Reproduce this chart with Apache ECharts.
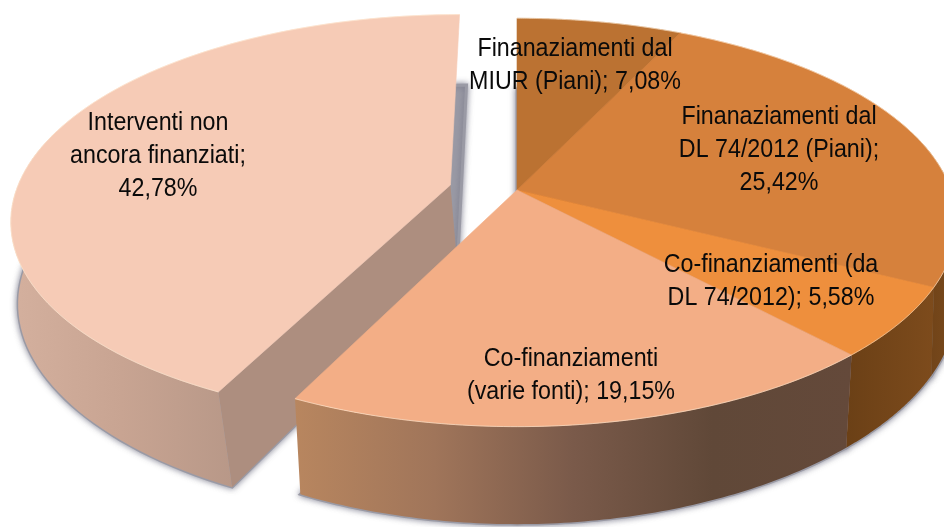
<!DOCTYPE html>
<html>
<head>
<meta charset="utf-8">
<title>Finanziamenti</title>
<script src="https://cdn.jsdelivr.net/npm/echarts@6/dist/echarts.min.js"></script>
<style>
  html, body { margin: 0; padding: 0; background: #ffffff; }
  #chart { width: 944px; height: 527px; }
</style>
</head>
<body>
<div id="chart"></div>
<script>
// slices, starting from the one that ends at twelve o'clock and going clockwise
const categories = [
  "Interventi non\nancora finanziati;",
  "Finanaziamenti dal\nMIUR (Piani);",
  "Finanaziamenti dal\nDL 74/2012 (Piani);",
  "Co-finanziamenti (da\nDL 74/2012);",
  "Co-finanziamenti\n(varie fonti);"
];
const values = [42.78, 7.08, 25.42, 5.58, 19.15];
const valueLabels = ["42,78%", "7,08%", "25,42%", "5,58%", "19,15%"];
const labelBreaks = ["\n", " ", "\n", " ", " "];

const topColors = ["#f6cbb6", "#bb7232", "#d6813c", "#ee8f3d", "#f3ae86"];
const wallColors = [
  ["#d4b09e", "#c8a492", "#b89888"],
  ["#8a5520", "#8a5520"],
  ["#6a3f16", "#7a4a1c"],
  ["#6b4016", "#7d4b1c"],
  ["#b8865f", "#a0755a", "#7a5a4a", "#604838", "#64493a"]
];
const cutColors = ["#ad8e7f", "#8a5520", "#6a3f16", "#6b4016", "#8a5f44"];

const labelCenters = [[158, 156], [575, 66], [779, 150], [771, 282], [571, 376]];

// homography from the unit circle to the screen, this is what gives the tilt
const centerX = 517, centerY = 190;
const radiusX = 434, radiusY = 199, persp = 0.159;
const depth = 82, baseShrink = 0.03;
const explode = [[-0.154, -0.025], [0, 0], [0, 0], [0, 0], [0, 0]];
const baseShift = [7, 0, 0, 0, 0];

const total = values.reduce((a, b) => a + b, 0);
const startAngle = -values[0] / total * 2 * Math.PI;

function sliceAngles(i) {
  let a = startAngle;
  for (let k = 0; k < i; k++) a += values[k] / total * 2 * Math.PI;
  return [a, a + values[i] / total * 2 * Math.PI];
}

function project(u, v, i, bottom) {
  const uu = u + explode[i][0], vv = v + explode[i][1];
  const w = 1 - persp * vv;
  let x = radiusX * uu / w, y = radiusY * vv / w;
  if (bottom) {
    // the base pulls in towards the viewer side only
    const front = Math.max(vv, 0);
    x = x * (1 - baseShrink * front * front) + baseShift[i];
    y += depth / w;
  }
  return [centerX + x, centerY + y];
}

function arc(i, bottom) {
  const [a0, a1] = sliceAngles(i);
  const pts = [];
  const n = 90;
  for (let k = 0; k <= n; k++) {
    const a = a0 + (a1 - a0) * k / n;
    pts.push(project(Math.sin(a), -Math.cos(a), i, bottom));
  }
  return pts;
}

function gradient(colors) {
  return new echarts.graphic.LinearGradient(0, 0, 1, 0,
    colors.map((c, k) => ({ offset: k / (colors.length - 1), color: c })));
}

function renderGlow(params) {
  const i = params.dataIndex;
  return {
    type: "polygon",
    shape: { points: [project(0, 0, i, true)].concat(arc(i, true)) },
    style: {
      fill: "#9a9aa5",
      stroke: "#9a9aa5",
      lineWidth: 3,
      shadowBlur: 6,
      shadowColor: "rgba(100,100,120,0.7)"
    }
  };
}

function renderWall(params) {
  const i = params.dataIndex;
  // the back of the rim is hidden by the top face, only keep the front part
  const keep = arc(i, false).map((p, k) => k).filter(k => arc(i, false)[k][1] > centerY - 60);
  const top = keep.map(k => arc(i, false)[k]);
  const base = keep.map(k => arc(i, true)[k]);
  const startTop = arc(i, false)[0], startBase = arc(i, true)[0];
  const children = [{
    type: "polygon",
    shape: { points: [project(0, 0, i, false), startTop, startBase, project(0, 0, i, true)] },
    style: { fill: cutColors[i] }
  }];
  if (top.length > 1) {
    children.push({
      type: "polygon",
      shape: { points: top.concat(base.slice().reverse()) },
      style: { fill: gradient(wallColors[i]) }
    });
  }
  return { type: "group", children: children };
}

function renderTop(params) {
  const i = params.dataIndex;
  const top = arc(i, false);
  return {
    type: "group",
    children: [
      {
        type: "polygon",
        shape: { points: [project(0, 0, i, false)].concat(top) },
        style: { fill: topColors[i], stroke: topColors[i], lineWidth: 0.6 }
      },
      {
        type: "polyline",
        shape: { points: top },
        style: { fill: null, stroke: "rgba(255,236,214,0.55)", lineWidth: 1 }
      }
    ]
  };
}

function renderLabel(params) {
  const i = params.dataIndex;
  return {
    type: "text",
    x: labelCenters[i][0],
    y: labelCenters[i][1],
    scaleX: 0.93,
    style: {
      text: categories[i] + labelBreaks[i] + valueLabels[i],
      fontFamily: "Liberation Sans",
      fontSize: 25,
      lineHeight: 33,
      fill: "#0a0a0a",
      align: "center",
      verticalAlign: "middle"
    }
  };
}

const chart = echarts.init(document.getElementById("chart"), null, { renderer: "canvas" });
const passes = [renderGlow, renderWall, renderTop, renderLabel];
chart.setOption({
  backgroundColor: "#ffffff",
  animation: false,
  series: passes.map((fn, k) => ({
    type: "custom",
    coordinateSystem: "none",
    silent: true,
    z: k + 1,
    data: values,
    renderItem: fn
  }))
});
</script>
</body>
</html>
